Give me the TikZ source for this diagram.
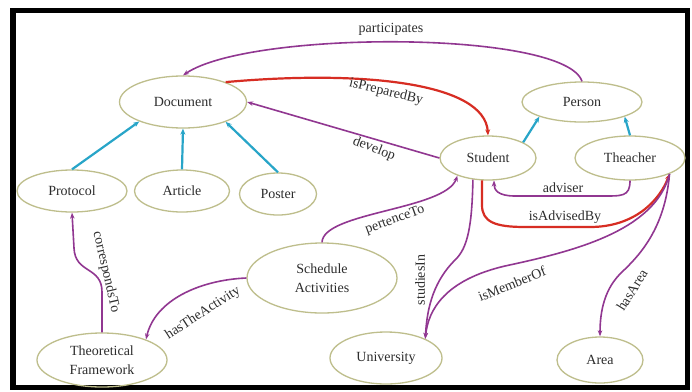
\documentclass[tikz,border=0pt]{standalone}
\usepackage{fontspec}
\setmainfont{Liberation Serif}
\usetikzlibrary{arrows.meta,shapes.geometric}
\definecolor{purp}{RGB}{145,55,145}
\definecolor{redc}{RGB}{215,45,35}
\definecolor{cyanc}{RGB}{40,165,200}
\definecolor{olivec}{RGB}{190,190,140}
\definecolor{txt}{RGB}{45,45,45}
\begin{document}
\begin{tikzpicture}[x=1pt,y=-1pt,
  cls/.style={ellipse,draw=olivec,line width=1.3pt,inner sep=0pt,align=center,
    font=\fontsize{14}{19}\selectfont,text=txt},
  lbl/.style={font=\fontsize{14}{15}\selectfont,text=txt,inner sep=0pt},
  rel/.style={draw=purp,line width=1.6pt,-{Stealth[length=6pt,width=4.5pt]}},
  hier/.style={draw=cyanc,line width=2.2pt,-{Stealth[length=6pt,width=5pt]}},
  inv/.style={draw=redc,line width=2.2pt,-{Stealth[length=6pt,width=5pt]}}]
\useasboundingbox (0,0) rectangle (692,391);
\fill[white] (0,0) rectangle (692,391);
\draw[line width=5.5pt] (13,10.5) rectangle (687.5,387.5);

\node[cls,minimum width=127pt,minimum height=52pt] (doc) at (183,102) {Document};
\node[cls,minimum width=110pt,minimum height=42pt] (prot) at (72,191) {Protocol};
\node[cls,minimum width=95pt,minimum height=42pt] (art) at (182,191) {Article};
\node[cls,minimum width=77pt,minimum height=42pt] (post) at (278,194) {Poster};
\node[cls,minimum width=120pt,minimum height=40pt] (pers) at (582,102) {Person};
\node[cls,minimum width=96pt,minimum height=44pt] (stud) at (488,158) {Student};
\node[cls,minimum width=110pt,minimum height=44pt] (teach) at (630,158) {Theacher};
\node[cls,minimum width=150pt,minimum height=70pt] (sched) at (322,278) {Schedule\\Activities};
\node[cls,minimum width=130pt,minimum height=54pt] (tf) at (102,360) {Theoretical\\Framework};
\node[cls,minimum width=112pt,minimum height=52pt] (univ) at (386,358) {University};
\node[cls,minimum width=86pt,minimum height=46pt] (area) at (600,360) {Area};

% hierarchy
\draw[hier] (prot.north) -- (doc.204);
\draw[hier] (art.north) -- (doc.south);
\draw[hier] (post.north) -- (doc.335);
\draw[hier] (stud.24) -- (pers.199);
\draw[hier] (teach.north) -- (pers.341);

% relations
\draw[rel] (pers.north) .. controls (565,30) and (250,30) .. (doc.north);
\draw[inv] (doc.25) .. controls (360,70) and (485,82) .. (stud.north);
\draw[rel] (stud.west) -- (doc.east);
\draw[rel] (teach.south) .. controls (630,197) and (622,196) .. (600,196) -- (515,196) .. controls (498,196) and (494,190) .. (stud.285);
\draw[inv] (stud.255) -- (482,205) .. controls (482,222) and (495,227) .. (525,227) -- (590,227) .. controls (635,227) and (660,200) .. (teach.338);
\draw[rel] (sched.north) .. controls (323,212) and (445,210) .. (stud.210);
\draw[rel] (stud.235) .. controls (472,225) and (468,248) .. (455,260) .. controls (435,280) and (427,305) .. (univ.26);
\draw[rel] (teach.338) .. controls (655,232) and (570,252) .. (505,266) .. controls (445,280) and (428,310) .. (univ.26);
\draw[rel] (teach.338) .. controls (665,228) and (640,255) .. (622,272) .. controls (605,288) and (600,310) .. (area.north);
\draw[rel] (sched.west) .. controls (200,280) and (155,300) .. (tf.25);
\draw[rel] (tf.north) -- (102,292) .. controls (102,266) and (75,274) .. (74,248) -- (prot.south);

% labels
\node[lbl] (lpart) at (391,29) {participates};
\node[lbl,rotate=-13] (lprep) at (386,92) {isPreparedBy};
\node[lbl,rotate=-21] (ldev) at (374,149) {develop};
\node[lbl] (ladv) at (563,188) {adviser};
\node[lbl] (ladvby) at (565,217) {isAdvisedBy};
\node[lbl,rotate=20] (lpert) at (395,220) {pertenceTo};
\node[lbl,rotate=90] (lstud) at (420,280) {studiesIn};
\node[lbl,rotate=22] (lmem) at (512,284) {isMemberOf};
\node[lbl,rotate=58] (larea) at (632,290) {hasArea};
\node[lbl,rotate=33] (lact) at (203,313) {hasTheActivity};
\node[lbl,rotate=-77] (lcorr) at (106,272) {correspondsTo};
\end{tikzpicture}
\end{document}
